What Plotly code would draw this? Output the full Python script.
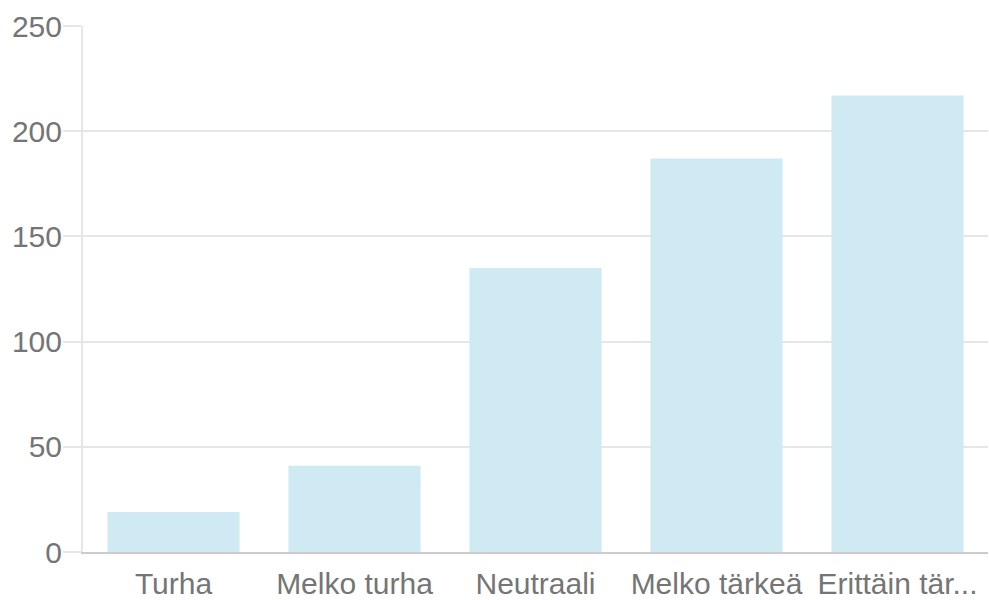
import plotly.graph_objects as go

categories = ["Turha", "Melko turha", "Neutraali", "Melko tärkeä", "Erittäin tärkeä"]
tick_labels = ["Turha", "Melko turha", "Neutraali", "Melko tärkeä", "Erittäin tär..."]
values = [19, 41, 135, 187, 217]
y_ticks = [0, 50, 100, 150, 200, 250]

fig = go.Figure(go.Bar(
    x=categories, y=values,
    marker=dict(color="rgb(208,234,243)", line=dict(width=0)),
    hoverinfo="x+y",
))

fig.update_layout(
    width=989, height=600,
    margin=dict(l=83, r=1, t=26, b=48),
    paper_bgcolor="white", plot_bgcolor="white",
    bargap=0.27,
    font=dict(family="Liberation Sans, Arial, sans-serif", size=30, color="#757575"),
    showlegend=False,
)
fig.update_xaxes(
    tickvals=categories, ticktext=tick_labels,
    showgrid=False, showline=True, linecolor="#cccccc", linewidth=2,
    ticks="", ticklabelstandoff=4, automargin=False,
)
fig.update_yaxes(
    range=[0, 250], tickvals=y_ticks,
    showgrid=True, gridcolor="#e6e6e6", gridwidth=2,
    showline=True, linecolor="#e6e6e6", linewidth=2,
    ticks="outside", ticklen=18, tickcolor="#e6e6e6", tickwidth=2,
    ticklabelstandoff=-5, automargin=False,
    zeroline=False,
)

fig.write_html(
    "out.html",
    config={"displayModeBar": False},
    post_script="document.body.style.margin='0';document.body.style.overflow='hidden';",
)
